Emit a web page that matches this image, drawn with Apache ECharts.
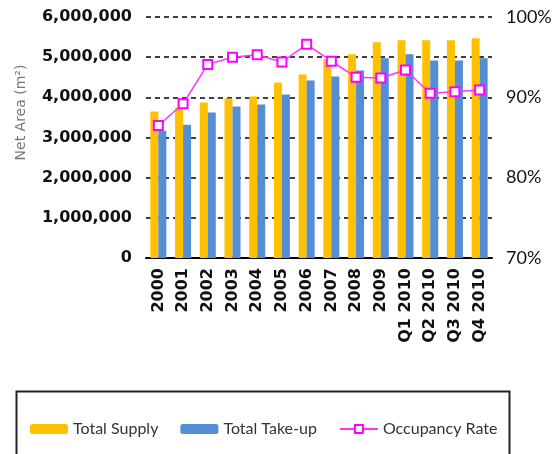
<!DOCTYPE html>
<html>
<head>
<meta charset="utf-8">
<script src="https://cdn.jsdelivr.net/npm/echarts@6/dist/echarts.min.js"></script>
<style>
html,body{margin:0;padding:0;background:#fff;}
#main{width:555px;height:454px;}
</style>
</head>
<body>
<div id="main"></div>
<script>
// 类目与数据
var categories = ['2000','2001','2002','2003','2004','2005','2006','2007','2008','2009','Q1 2010','Q2 2010','Q3 2010','Q4 2010'];
var totalSupply = [3650000,3750000,3870000,3970000,4020000,4370000,4570000,4950000,5070000,5370000,5420000,5420000,5420000,5470000];
var totalTakeup = [3160000,3320000,3620000,3770000,3820000,4070000,4420000,4520000,4670000,4970000,5070000,4920000,4920000,4970000];
var occupancy = [86.5,89.2,94.1,95.0,95.3,94.4,96.6,94.5,92.5,92.4,93.4,90.5,90.7,90.9];

var myChart = echarts.init(document.getElementById('main'));
var option = {
	animation:false,
	grid:{left:146,right:63,top:17,bottom:196},
	legend:{
		left:25,
		top:416,
		itemWidth:38,
		itemHeight:10,
		itemGap:22,
		textStyle:{fontFamily:'Lato',fontSize:16,color:'#333'},
		data:['Total Supply','Total Take-up','Occupancy Rate']
	},
	graphic:[{
		type:'rect',
		left:14,
		top:389,
		shape:{width:493,height:80},
		style:{fill:'none',stroke:'#222',lineWidth:2}
	}],
	xAxis:{
		type:'category',
		data:categories,
		axisLine:{lineStyle:{color:'#000',width:2}},
		axisTick:{show:false},
		axisLabel:{rotate:90,margin:10,fontFamily:'DejaVu Sans',fontWeight:'bold',fontSize:16,color:'#111'}
	},
	yAxis:[{
		type:'value',
		min:0,
		max:6000000,
		interval:1000000,
		name:'Net Area (m\u00b2)',
		nameLocation:'middle',
		nameGap:118,
		nameTextStyle:{fontFamily:'DejaVu Sans',fontSize:14,color:'#777',padding:[0,0,0,50]},
		axisLine:{show:false},
		axisTick:{show:false},
		axisLabel:{
			margin:14,
			fontFamily:'DejaVu Sans',fontWeight:'bold',fontSize:16,color:'#111',
			formatter:function(v){return v.toLocaleString('en-US');}
		},
		splitLine:{lineStyle:{color:'#000',type:[5,4],width:1.5}}
	},{
		type:'value',
		min:70,
		max:100,
		interval:10,
		axisLine:{show:false},
		axisTick:{show:false},
		axisLabel:{margin:14,fontFamily:'Lato',fontSize:18,color:'#111',formatter:'{value}%'},
		splitLine:{show:false}
	}],
	series:[{
		name:'Total Supply',
		type:'bar',
		data:totalSupply,
		barWidth:8,
		barGap:'0%',
		itemStyle:{color:'#FFC000'}
	},{
		name:'Total Take-up',
		type:'bar',
		data:totalTakeup,
		barWidth:8,
		itemStyle:{color:'#558ED5'}
	},{
		name:'Occupancy Rate',
		type:'line',
		yAxisIndex:1,
		data:occupancy,
		symbol:'emptyRect',
		symbolSize:9,
		lineStyle:{color:'#FF33FF',width:1.5},
		itemStyle:{color:'#FF00FF',borderWidth:2}
	}]
};
myChart.setOption(option);
</script>
</body>
</html>
